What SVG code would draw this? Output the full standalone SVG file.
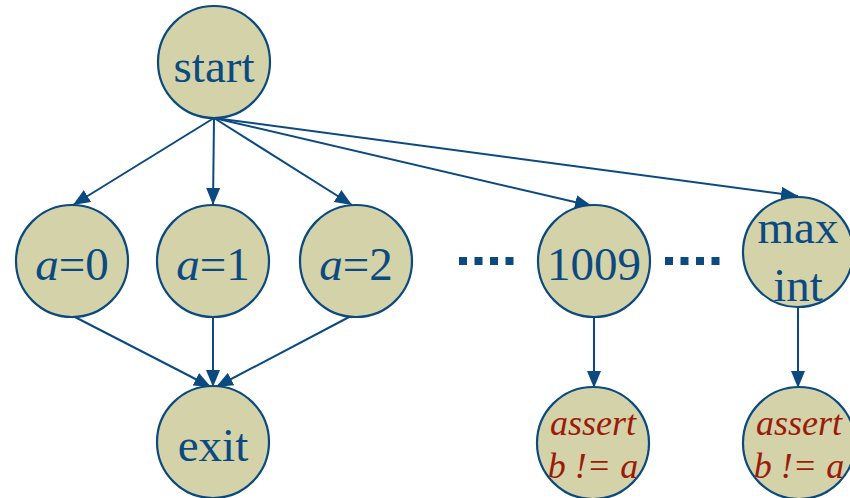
<svg xmlns="http://www.w3.org/2000/svg" width="850" height="498" viewBox="0 0 850 498">
  <defs>
    <marker id="arrow" viewBox="0 0 17 14" markerWidth="17" markerHeight="14" refX="17" refY="7" orient="auto" markerUnits="userSpaceOnUse">
      <path d="M0,0 L17,7 L0,14 z" fill="#0b4a80"/>
    </marker>
  </defs>
  <style>
    .node { fill: #d4d2a9; stroke: #0b4a80; stroke-width: 2.2; }
    .edge { stroke: #0b4a80; stroke-width: 2; fill: none; marker-end: url(#arrow); }
    .lbl { font-family: "Liberation Serif", "Times New Roman", serif; font-size: 47px; fill: #0b4a80; text-anchor: middle; }
    .it { font-style: italic; }
    .chk { font-family: "Liberation Serif", "Times New Roman", serif; font-size: 36px; fill: #9b1b0a; font-style: italic; text-anchor: middle; }
    .dots { stroke: #0b4a80; stroke-width: 8; stroke-dasharray: 8 7.5; fill: none; }
  </style>

  <g id="connectors">
    <line class="edge" x1="214" y1="118" x2="73" y2="205"/>
    <line class="edge" x1="214" y1="118" x2="213" y2="205"/>
    <line class="edge" x1="214" y1="118" x2="352" y2="205"/>
    <line class="edge" x1="214" y1="118" x2="592" y2="206"/>
    <line class="edge" x1="214" y1="118" x2="798" y2="196"/>
    <line class="edge" x1="73" y1="316" x2="211" y2="387"/>
    <line class="edge" x1="213" y1="316" x2="213" y2="387"/>
    <line class="edge" x1="351" y1="316" x2="216" y2="387"/>
    <line class="edge" x1="594" y1="317" x2="594" y2="388"/>
    <line class="edge" x1="798" y1="307" x2="798" y2="388"/>
  </g>

  <g id="ellipsis-left">
    <line class="dots" x1="459" y1="261" x2="520" y2="261"/>
  </g>
  <g id="ellipsis-right">
    <line class="dots" x1="665" y1="261" x2="726" y2="261"/>
  </g>

  <g id="start">
    <circle class="node" cx="214" cy="62" r="56"/>
    <text class="lbl" x="214" y="82">start</text>
  </g>
  <g id="a0">
    <circle class="node" cx="72" cy="261" r="56"/>
    <text class="lbl" x="72" y="280"><tspan class="it">a</tspan>=0</text>
  </g>
  <g id="a1">
    <circle class="node" cx="213" cy="261" r="56"/>
    <text class="lbl" x="213" y="280"><tspan class="it">a</tspan>=1</text>
  </g>
  <g id="a2">
    <circle class="node" cx="356" cy="261" r="56"/>
    <text class="lbl" x="356" y="280"><tspan class="it">a</tspan>=2</text>
  </g>
  <g id="n1009">
    <circle class="node" cx="594" cy="261" r="56"/>
    <text class="lbl" x="594" y="280">1009</text>
  </g>
  <g id="maxint">
    <circle class="node" cx="798" cy="252" r="55"/>
    <text class="lbl" x="798" y="243">max</text>
    <text class="lbl" x="798" y="301">int</text>
  </g>
  <g id="exit">
    <circle class="node" cx="213" cy="442" r="56"/>
    <text class="lbl" x="213" y="461">exit</text>
  </g>
  <g id="assert1009">
    <circle class="node" cx="593" cy="443" r="56"/>
    <text class="chk" x="593" y="435">assert</text>
    <text class="chk" x="593" y="478">b != a</text>
  </g>
  <g id="assertmax">
    <circle class="node" cx="799" cy="443" r="56"/>
    <text class="chk" x="799" y="435">assert</text>
    <text class="chk" x="799" y="478">b != a</text>
  </g>
</svg>
